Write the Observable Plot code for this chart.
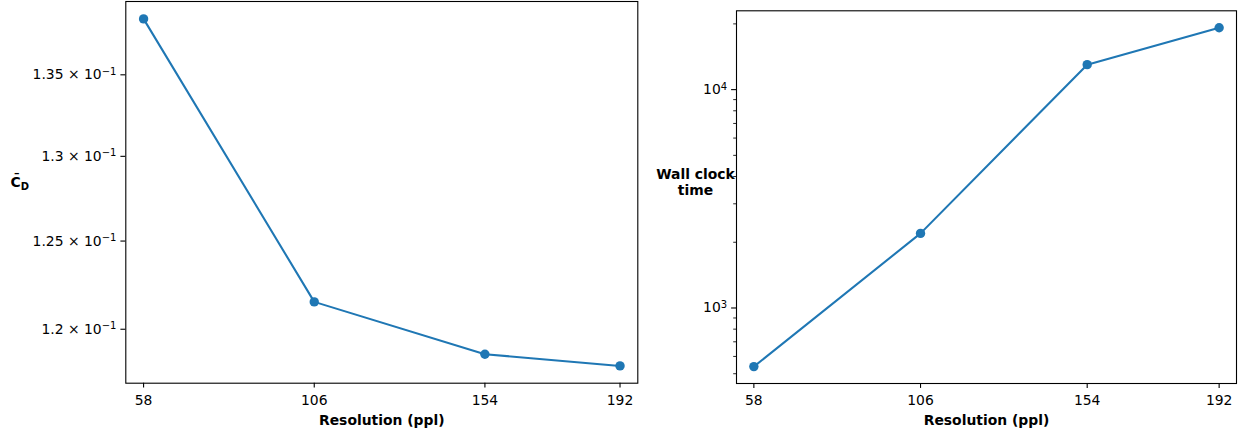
<!DOCTYPE html>
<html><head><meta charset="utf-8">
<script src="https://cdn.jsdelivr.net/npm/d3@7"></script>
<script src="https://cdn.jsdelivr.net/npm/@observablehq/plot@0.6"></script>
<style>
body{margin:0;background:#fff;width:1241px;height:434px;overflow:hidden;position:relative;font-family:"DejaVu Sans",sans-serif}
#left{position:absolute;left:0;top:0}
#right{position:absolute;left:640px;top:0}
svg{overflow:visible}
</style></head><body>
<div id="left"></div><div id="right"></div>
<script>
// ---- data ----
const resolution = [58, 106, 154, 192];
const dragCoefficient = [0.13854, 0.12153, 0.11862, 0.11798];
const wallClockTime = [539, 2196, 13010, 19210];
const xTicks = [58, 106, 154, 192];
const cdTicks = [0.12, 0.125, 0.13, 0.135];
const cdTickMantissas = ["1.2", "1.25", "1.3", "1.35"];
const cdTickExponent = "−1";
const timeMajorTicks = [1000, 10000];
const timeMajorExponents = ["3", "4"];
const timeMinorTicks = [500, 600, 700, 800, 900, 2000, 3000, 4000, 5000, 6000, 7000, 8000, 9000, 20000];
const xLabel = "Resolution (ppl)";
const leftYLabel = ["C̄", "D"];
const rightYLabel = "Wall clock\ntime";

const blue = "#1f77b4";
const fs = 13.9;
const cdData = resolution.map((r, i) => ({r, v: dragCoefficient[i]}));
const timeData = resolution.map((r, i) => ({r, v: wallClockTime[i]}));

function superscriptify(svg, sel) {
  svg.querySelectorAll(sel).forEach(t => {
    const s = t.textContent;
    if (!s.includes("^")) return;
    const [base, sup] = s.split("^");
    t.textContent = "";
    const ns = "http://www.w3.org/2000/svg";
    const a = document.createElementNS(ns, "tspan"); a.textContent = base; t.appendChild(a);
    const b = document.createElementNS(ns, "tspan"); b.textContent = sup;
    b.setAttribute("dy", "-0.45em"); b.setAttribute("font-size", "0.72em"); t.appendChild(b);
  });
}

const common = {
  height: 434,
  style: {fontFamily: "DejaVu Sans", fontSize: fs + "px", color: "black", background: "transparent", overflow: "visible"}
};

// ---- left panel ----
const left = Plot.plot({
  ...common,
  width: 640,
  marginLeft: 125.3, marginRight: 2.7, marginTop: 1, marginBottom: 51.3,
  x: {domain: [53, 197]},
  y: {type: "log", domain: [0.11704, 0.13966]},
  marks: [
    Plot.axisX({ticks: xTicks, tickFormat: d => String(d), tickSize: 4.9, tickPadding: 7, strokeWidth: 1.1, label: null, fontSize: fs}),
    Plot.axisY({ticks: cdTicks, tickFormat: d => cdTickMantissas[cdTicks.indexOf(d)] + " × 10^" + cdTickExponent, tickSize: 4.9, tickPadding: 4.5, strokeWidth: 1.1, label: null, fontSize: fs}),
    Plot.line(cdData, {x: "r", y: "v", stroke: blue, strokeWidth: 2.08}),
    Plot.dot(cdData, {x: "r", y: "v", r: 4.7, fill: blue, stroke: null}),
    Plot.frame({stroke: "black", strokeWidth: 1.1}),
    Plot.text([xLabel], {text: d => d, frameAnchor: "bottom", lineAnchor: "middle", dy: 37, fontWeight: "bold", fontSize: fs}),
    Plot.text([leftYLabel.join("^")], {text: d => d, frameAnchor: "left", textAnchor: "middle", lineAnchor: "middle", dx: -106, dy: -10, fontWeight: "bold", fontSize: fs, className: "ylab"})
  ]
});
superscriptify(left, '[aria-label="y-axis tick label"] text');
left.querySelectorAll('.ylab text').forEach(t => {
  const [a, b] = t.textContent.split("^");
  t.textContent = "";
  const ns = "http://www.w3.org/2000/svg";
  const s1 = document.createElementNS(ns, "tspan"); s1.textContent = a; t.appendChild(s1);
  const s2 = document.createElementNS(ns, "tspan"); s2.textContent = b;
  s2.setAttribute("dy", "0.3em"); s2.setAttribute("font-size", "0.72em"); t.appendChild(s2);
});
document.getElementById("left").appendChild(left);

// ---- right panel ----
const right = Plot.plot({
  ...common,
  width: 601,
  marginLeft: 96, marginRight: 5, marginTop: 10.3, marginBottom: 51,
  x: {domain: [53, 197]},
  y: {type: "log", domain: [451, 22960]},
  marks: [
    Plot.axisX({ticks: xTicks, tickFormat: d => String(d), tickSize: 4.9, tickPadding: 7, strokeWidth: 1.1, label: null, fontSize: fs}),
    Plot.axisY({ticks: timeMajorTicks, tickFormat: d => "10^" + timeMajorExponents[timeMajorTicks.indexOf(d)], tickSize: 4.9, tickPadding: 4.5, strokeWidth: 1.1, label: null, fontSize: fs}),
    Plot.axisY({ticks: timeMinorTicks, tickFormat: () => "", tickSize: 2.8, strokeWidth: 0.85, label: null}),
    Plot.line(timeData, {x: "r", y: "v", stroke: blue, strokeWidth: 2.08}),
    Plot.dot(timeData, {x: "r", y: "v", r: 4.7, fill: blue, stroke: null}),
    Plot.frame({stroke: "black", strokeWidth: 1.1}),
    Plot.text([xLabel], {text: d => d, frameAnchor: "bottom", lineAnchor: "middle", dy: 37, fontWeight: "bold", fontSize: fs}),
    Plot.text([rightYLabel], {text: d => d, frameAnchor: "left", dx: -41, dy: -15, textAnchor: "middle", lineAnchor: "middle", lineHeight: 1.15, fontWeight: "bold", fontSize: fs})
  ]
});
superscriptify(right, '[aria-label="y-axis tick label"] text');
document.getElementById("right").appendChild(right);
</script>
</body></html>
